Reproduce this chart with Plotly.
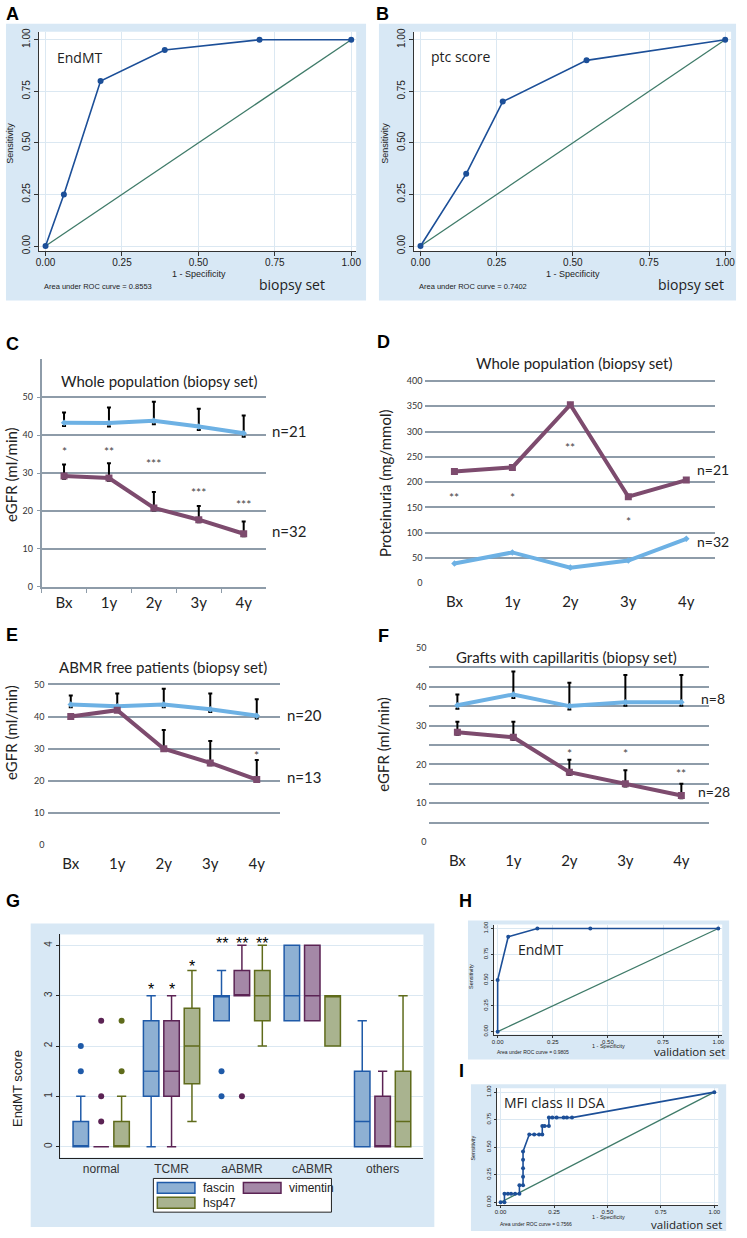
import plotly.graph_objects as go

W, H = 747, 1238

# ---------------- data ----------------
roc_ref = [0, 1]
roc_a_fpr = [0, 0.06, 0.18, 0.39, 0.70, 1.0]
roc_a_tpr = [0, 0.25, 0.80, 0.95, 1.0, 1.0]
roc_b_fpr = [0, 0.15, 0.27, 0.545, 1.0]
roc_b_tpr = [0, 0.35, 0.70, 0.90, 1.0]
roc_h_fpr = [0, 0, 0.048, 0.18, 0.42, 1.0]
roc_h_tpr = [0, 0.5, 0.92, 1.0, 1.0, 1.0]
roc_i_fpr = [0, 0.018, 0.018, 0.034, 0.049, 0.068, 0.088, 0.088, 0.105, 0.105, 0.105, 0.105,
             0.105, 0.134, 0.157, 0.18, 0.195, 0.195, 0.206, 0.226, 0.226, 0.242, 0.262, 0.295,
             0.31, 0.334, 1.0]
roc_i_tpr = [0, 0, 0.077, 0.077, 0.077, 0.077, 0.077, 0.154, 0.154, 0.231, 0.308, 0.385,
             0.462, 0.615, 0.615, 0.615, 0.615, 0.692, 0.692, 0.692, 0.769, 0.769, 0.769, 0.769,
             0.769, 0.769, 1.0]

timepoints = ['Bx', '1y', '2y', '3y', '4y']

c_blue = [43.3, 43.2, 43.8, 42.3, 40.5]
c_blue_up = [46, 47.3, 48.8, 47, 45.2]
c_purple = [29.2, 28.7, 20.8, 17.7, 14]
c_purple_up = [32.3, 32.6, 25, 21.3, 17.2]
c_stars = ['*', '**', '***', '***', '***']
c_star_y = [36.6, 36.6, 33.4, 25.8, 22.6]

d_purple = [221, 229, 353, 171, 204]
d_blue = [39, 61, 31, 45, 88]
d_stars = ['**', '*', '**', '*']
d_star_x = ['Bx', '1y', '2y', '3y']
d_star_y = [175, 175, 275, 128]

e_blue = [43.8, 43.2, 43.8, 42.3, 40.3]
e_blue_up = [46.6, 47.2, 48.7, 47.2, 45.4]
e_purple = [40, 42, 30, 25.6, 20.4]
e_purple_up = [40, 42, 35.8, 32.4, 26.5]
e_stars = ['*']
e_star_x = ['4y']
e_star_y = [28.8]

f_blue = [35.2, 38, 35, 36, 36]
f_blue_up = [38, 43.9, 41, 43, 43]
f_purple = [28.3, 27, 18, 15, 12]
f_purple_up = [31, 31, 21.2, 18.5, 15]
f_stars = ['*', '*', '**']
f_star_x = ['2y', '3y', '4y']
f_star_y = [23.5, 23.5, 18.5]

g_groups = ['normal', 'TCMR', 'aABMR', 'cABMR', 'others']
g_series = ['fascin', 'vimentin', 'hsp47']
g_q1 = {'fascin': [0, 1, 2.5, 2.5, 0], 'vimentin': [0, 1, 3, 2.5, 0], 'hsp47': [0, 1.25, 2.5, 2, 0]}
g_med = {'fascin': [0, 1.5, 3, 3, 0.5], 'vimentin': [0, 1.5, 3, 3, 0], 'hsp47': [0, 2, 3, 3, 0.5]}
g_q3 = {'fascin': [0.5, 2.5, 3, 4, 1.5], 'vimentin': [0, 2.5, 3.5, 4, 1], 'hsp47': [0.5, 2.75, 3.5, 3, 1.5]}
g_lo = {'fascin': [0, 0, 2.5, 2.5, 0], 'vimentin': [0, 0, 3, 2.5, 0], 'hsp47': [0, 0.5, 2, 2, 0]}
g_hi = {'fascin': [1, 3, 3.5, 4, 2.5], 'vimentin': [0, 3, 4, 4, 1.5], 'hsp47': [1, 3.5, 4, 3, 3]}
g_out_grp = {'fascin': [0, 0, 2, 2], 'vimentin': [0, 0, 0, 2], 'hsp47': [0, 0]}
g_out_val = {'fascin': [2, 1.5, 1.5, 1], 'vimentin': [2.5, 1, 0.5, 1], 'hsp47': [2.5, 1.5]}
g_star_grp = [1, 1, 1, 2, 2, 2]
g_star_ser = ['fascin', 'vimentin', 'hsp47', 'fascin', 'vimentin', 'hsp47']
g_star_txt = ['*', '*', '*', '**', '**', '**']
g_star_y = [3.2, 3.2, 3.66, 4.12, 4.12, 4.12]

# ---------------- styling ----------------
SANS = "Liberation Sans, Arial, sans-serif"
HUM = "Open Sans, sans-serif"
MYR = "Lato, sans-serif"
ROC_LINE = '#1c4f98'
ROC_REF = '#3f7b69'
GRID_ROC = '#dbe8f2'
BG_BLUE = '#d8e8f5'
GGRID = '#8e9ca9'
BLUE_S = '#6db1e4'
PURP_S = '#7d4b6e'
G_FILL = {'fascin': '#8eb0d3', 'vimentin': '#a488a7', 'hsp47': '#a9b38f'}
G_LINE = {'fascin': '#1f5aa8', 'vimentin': '#5b2354', 'hsp47': '#5f6b1b'}
G_OFF = {'fascin': -0.29, 'vimentin': 0.0, 'hsp47': 0.29}


def fx(p):
    return p / W


def fy(p):
    return 1 - p / H


def lin(v0, p0, v1, p1, pa, pb):
    k = (v1 - v0) / (p1 - p0)
    return [v0 + (pa - p0) * k, v0 + (pb - p0) * k]


layout = {}
shapes = []
annotations = []


def ann(text, x, y, size, family, color='#222', xanchor='center', yanchor='middle',
        xref='paper', yref='paper', angle=0, yshift=0):
    annotations.append(dict(text=text, x=x, y=y, xref=xref, yref=yref, showarrow=False,
                            xanchor=xanchor, yanchor=yanchor, textangle=angle, yshift=yshift,
                            font=dict(size=size, family=family, color=color)))


def roc_axes(n, xd, yd, x0p, x1p, y0p, y1p, fs, tl, so=0):
    sx = '' if n == 1 else str(n)
    layout['xaxis' + sx] = dict(
        domain=[fx(xd[0]), fx(xd[1])], range=lin(0, x0p, 1, x1p, xd[0], xd[1]),
        tickvals=[0, 0.25, 0.5, 0.75, 1], ticktext=['0.00', '0.25', '0.50', '0.75', '1.00'],
        showgrid=True, gridcolor=GRID_ROC, gridwidth=1, zeroline=False, showline=True,
        linecolor='#333', linewidth=1, ticks='outside', ticklen=tl, tickcolor='#333',
        tickfont=dict(family=SANS, size=fs, color='#222'), anchor='y' + sx,
        ticklabelstandoff=so)
    layout['yaxis' + sx] = dict(
        domain=[fy(yd[1]), fy(yd[0])], range=lin(0, y0p, 1, y1p, yd[1], yd[0]),
        tickvals=[0, 0.25, 0.5, 0.75, 1], ticktext=['0.00', '0.25', '0.50', '0.75', '1.00'],
        showgrid=True, gridcolor=GRID_ROC, gridwidth=1, zeroline=False, showline=True,
        linecolor='#333', linewidth=1, ticks='outside', ticklen=tl, tickcolor='#333',
        tickangle=-90, tickfont=dict(family=SANS, size=fs, color='#222'), anchor='x' + sx)
    shapes.append(dict(type='rect', xref='x' + sx + ' domain', yref='y' + sx + ' domain',
                       x0=0, x1=1, y0=0, y1=1, fillcolor='white', line=dict(width=0),
                       layer='below'))


def bg_box(x0, x1, y0, y1):
    shapes.append(dict(type='rect', xref='paper', yref='paper', x0=fx(x0), x1=fx(x1),
                       y0=fy(y1), y1=fy(y0), fillcolor=BG_BLUE, line=dict(width=0),
                       layer='below'))


fig = go.Figure()


def roc_traces(n, fpr, tpr, msize, lw):
    sx = '' if n == 1 else str(n)
    fig.add_trace(go.Scatter(x=roc_ref, y=roc_ref, xaxis='x' + sx, yaxis='y' + sx, mode='lines',
                             line=dict(color=ROC_REF, width=lw), hoverinfo='skip'))
    fig.add_trace(go.Scatter(x=fpr, y=tpr, xaxis='x' + sx, yaxis='y' + sx, mode='lines+markers',
                             line=dict(color=ROC_LINE, width=lw + 0.3),
                             marker=dict(size=msize, color=ROC_LINE)))


# ---------- A ----------
bg_box(3, 367, 19, 298)
roc_axes(1, (36, 357), (27, 248), 43, 352, 243, 35, 10, 4, -2)
roc_traces(1, roc_a_fpr, roc_a_tpr, 6, 1.3)
ann('EndMT', fx(53), fy(53), 14, HUM, xanchor='left')
ann('Sensitivity', fx(7), fy(139), 9, SANS, angle=-90)
ann('1 - Specificity', fx(198), fy(271), 9, SANS)
ann('Area under ROC curve = 0.8553', fx(39), fy(284), 7.5, SANS, xanchor='left')
ann('biopsy set', fx(257), fy(282), 14, HUM, xanchor='left')

# ---------- B ----------
bg_box(380, 741, 19, 298)
roc_axes(2, (415, 736), (27, 248), 422, 730, 243, 35, 10, 4, -2)
roc_traces(2, roc_b_fpr, roc_b_tpr, 6, 1.3)
ann('ptc score', fx(431), fy(52), 14, HUM, xanchor='left')
ann('Sensitivity', fx(386), fy(139), 9, SANS, angle=-90)
ann('1 - Specificity', fx(576), fy(271), 9, SANS)
ann('Area under ROC curve = 0.7402', fx(418), fy(284), 7.5, SANS, xanchor='left')
ann('biopsy set', fx(660), fy(282), 14, HUM, xanchor='left')


# ---------- line panels ----------
def cat_axes(n, xd, yd, yr, tickvals, ticktext, yline, xline, xticks):
    sx = str(n)
    layout['xaxis' + sx] = dict(
        domain=[fx(xd[0]), fx(xd[1])], range=[-0.5, 4.5], type='category',
        categoryorder='array', categoryarray=timepoints,
        showgrid=False, zeroline=False, showline=xline, linecolor=GGRID, linewidth=1.5,
        ticks='outside' if xticks else '', tickson='boundaries', ticklen=4,
        tickcolor=GGRID, tickwidth=1.2,
        tickfont=dict(family=MYR, size=15, color='#222'), anchor='y' + sx,
        ticklabelstandoff=1 if xticks else 7)
    layout['yaxis' + sx] = dict(
        domain=[fy(yd[1]), fy(yd[0])], range=yr, tickvals=tickvals, ticktext=ticktext,
        showgrid=True, gridcolor=GGRID, gridwidth=1.5, zeroline=False, showline=yline,
        linecolor=GGRID, linewidth=1.5, ticks='outside' if yline else '', ticklen=3,
        tickcolor=GGRID, tickfont=dict(family=MYR, size=9, color='#333'), anchor='x' + sx,
        ticklabelstandoff=2)


def err(up, v, minus):
    return dict(type='data', symmetric=False, array=[u - a for u, a in zip(up, v)],
                arrayminus=[minus if u > a else 0 for u, a in zip(up, v)],
                color='black', thickness=2, width=2)


def line_traces(n, blue, purple, blue_err=None, purple_err=None, blue_sym='diamond'):
    sx = str(n)
    fig.add_trace(go.Scatter(x=timepoints, y=blue, xaxis='x' + sx, yaxis='y' + sx,
                             mode='lines+markers', line=dict(color=BLUE_S, width=4),
                             marker=dict(size=5, color=BLUE_S, symbol=blue_sym),
                             error_y=blue_err))
    fig.add_trace(go.Scatter(x=timepoints, y=purple, xaxis='x' + sx, yaxis='y' + sx,
                             mode='lines+markers', line=dict(color=PURP_S, width=4),
                             marker=dict(size=7, color=PURP_S, symbol='square'),
                             error_y=purple_err))


# C
cat_axes(3, (39, 266), (357, 587), lin(0, 586.5, 10, 548.3, 587, 357),
         [0, 10, 20, 30, 40, 50], ['0', '10', '20', '30', '40', '50'], True, True, True)
line_traces(3, c_blue, c_purple, err(c_blue_up, c_blue, 0.9), err(c_purple_up, c_purple, 0.7))
ann('<b>C</b>', fx(10), fy(342), 18, SANS, color='black')
ann('Whole population (biopsy set)', fx(158), fy(379), 15, MYR)
ann('eGFR (ml/min)', fx(8), fy(473), 15, MYR, angle=-90)
for t, x, y in zip(c_stars, timepoints, c_star_y):
    ann(t, x, y, 12, MYR, color='#444', xref='x3', yref='y3', yshift=-3)
ann('n=21', fx(270), 41, 15, MYR, xanchor='left', yref='y3')
ann('n=32', fx(270), 14.8, 15, MYR, xanchor='left', yref='y3')

# D
cat_axes(4, (427, 720), (375, 584), lin(0, 583, 400, 379, 584, 375),
         [0, 50, 100, 150, 200, 250, 300, 350, 400],
         ['0', '50', '100', '150', '200', '250', '300', '350', '400'], False, False, False)
line_traces(4, d_blue, d_purple)
ann('<b>D</b>', fx(385), fy(340), 18, SANS, color='black')
ann('Whole population (biopsy set)', fx(577), fy(361), 15, MYR)
ann('Proteinuria (mg/mmol)', fx(386), fy(482), 15, MYR, angle=-90)
for t, x, y in zip(d_stars, d_star_x, d_star_y):
    ann(t, x, y, 12, MYR, color='#444', xref='x4', yref='y4', yshift=-3)
ann('n=21', fx(699), 225, 14, MYR, xanchor='left', yref='y4')
ann('n=32', fx(699), 83, 14, MYR, xanchor='left', yref='y4')

# E
cat_axes(5, (45, 280), (652, 848), lin(0, 847, 10, 814.6, 848, 652),
         [0, 10, 20, 30, 40, 50, 60], ['0', '10', '20', '30', '40', '50', ''], False, False, False)
line_traces(5, e_blue, e_purple, err(e_blue_up, e_blue, 0.9), err(e_purple_up, e_purple, 0.7))
ann('<b>E</b>', fx(9), fy(635), 18, SANS, color='black')
ann('ABMR free patients (biopsy set)', fx(162), fy(667), 15, MYR)
ann('eGFR (ml/min)', fx(8), fy(733), 15, MYR, angle=-90)
for t, x, y in zip(e_stars, e_star_x, e_star_y):
    ann(t, x, y, 12, MYR, color='#444', xref='x5', yref='y5', yshift=-3)
ann('n=20', fx(285), 40.5, 15, MYR, xanchor='left', yref='y5')
ann('n=13', fx(285), 21.2, 15, MYR, xanchor='left', yref='y5')

# F
cat_axes(6, (431, 714), (647, 845), lin(0, 844, 50, 648, 845, 647),
         [0, 5, 10, 15, 20, 25, 30, 35, 40, 45, 50],
         ['0', '', '10', '', '20', '', '30', '', '40', '', '50'], False, False, False)
line_traces(6, f_blue, f_purple, err(f_blue_up, f_blue, 0.9), err(f_purple_up, f_purple, 0.7))
ann('<b>F</b>', fx(385), fy(636), 18, SANS, color='black')
ann('Grafts with capillaritis (biopsy set)', fx(570), fy(657), 15, MYR)
ann('eGFR (ml/min)', fx(384), fy(745), 15, MYR, angle=-90)
for t, x, y in zip(f_stars, f_star_x, f_star_y):
    ann(t, x, y, 12, MYR, color='#444', xref='x6', yref='y6', yshift=-3)
ann('n=8', fx(704), 37, 14, MYR, xanchor='left', yref='y6')
ann('n=28', fx(700), 13, 14, MYR, xanchor='left', yref='y6')

# ---------- G ----------
bg_box(28, 436, 926, 1232)
layout['xaxis7'] = dict(
    domain=[fx(58), fx(425)], range=[-0.58, 4.58], tickvals=list(range(5)), ticktext=g_groups,
    showgrid=False, zeroline=False, showline=True, linecolor='#222', linewidth=1,
    ticks='', tickfont=dict(family=SANS, size=12, color='#333'), anchor='y7')
layout['yaxis7'] = dict(
    domain=[fy(1162), fy(937)], range=lin(0, 1151, 4, 948, 1162, 937), tickvals=[0, 1, 2, 3, 4],
    showgrid=True, gridcolor=GRID_ROC, gridwidth=1, zeroline=False, showline=True,
    linecolor='#222', linewidth=1, ticks='outside', ticklen=3, tickcolor='#222', tickangle=-90,
    tickfont=dict(family=SANS, size=10, color='#333'), anchor='x7')
shapes.append(dict(type='rect', xref='x7 domain', yref='y7 domain', x0=0, x1=1, y0=0, y1=1,
                   fillcolor='white', line=dict(width=0), layer='below'))
for s in g_series:
    xs = [i + G_OFF[s] for i in range(len(g_groups))]
    fig.add_trace(go.Box(x=xs, q1=g_q1[s], median=g_med[s], q3=g_q3[s], lowerfence=g_lo[s],
                         upperfence=g_hi[s], xaxis='x7', yaxis='y7', width=0.22,
                         fillcolor=G_FILL[s], line=dict(color=G_LINE[s], width=1.5),
                         whiskerwidth=0.6, boxpoints=False, name=s))
    fig.add_trace(go.Scatter(x=[g + G_OFF[s] for g in g_out_grp[s]], y=g_out_val[s],
                             xaxis='x7', yaxis='y7', mode='markers',
                             marker=dict(size=6, color=G_LINE[s]), hoverinfo='skip'))
for g, s, t, y in zip(g_star_grp, g_star_ser, g_star_txt, g_star_y):
    ann(t, g + G_OFF[s], y, 16, SANS, color='black', xref='x7', yref='y7', yshift=-4)
ann('<b>G</b>', fx(10), fy(903), 18, SANS, color='black')
ann('EndMT score', fx(14), fy(1092), 13, SANS, angle=-90)
# legend
shapes.append(dict(type='rect', xref='paper', yref='paper', x0=fx(152), x1=fx(332),
                   y0=fy(1217), y1=fy(1183), fillcolor='white', line=dict(color='#222', width=1)))
for s, (lx, ly) in zip(g_series, [(156, 1192.5), (243, 1192.5), (156, 1207.5)]):
    shapes.append(dict(type='rect', xref='paper', yref='paper', x0=fx(lx), x1=fx(lx + 38),
                       y0=fy(ly + 5.5), y1=fy(ly - 5.5), fillcolor=G_FILL[s],
                       line=dict(color=G_LINE[s], width=1.5)))
    ann(s, fx(lx + 44), fy(ly), 12, SANS, color='#222', xanchor='left')

# ---------- H ----------
bg_box(470, 734, 923, 1063)
roc_axes(8, (496, 727), (927, 1038), 500, 723, 1035, 931, 6, 2, -1)
roc_traces(8, roc_h_fpr, roc_h_tpr, 4, 1.3)
ann('<b>H</b>', fx(468), fy(903), 18, SANS, color='black')
ann('EndMT', fx(519), fy(952), 14, HUM, xanchor='left')
ann('Sensitivity', fx(473), fy(979), 5.5, SANS, angle=-90)
ann('1 - Specificity', fx(612), fy(1049), 5.5, SANS)
ann('Area under ROC curve = 0.9805', fx(497), fy(1056), 5, SANS, xanchor='left')
ann('validation set', fx(656), fy(1055), 11.5, HUM, xanchor='left')

# ---------- I ----------
bg_box(473, 731, 1088, 1236)
roc_axes(9, (499, 723), (1092, 1210), 503, 719, 1207, 1096, 6, 2, -1)
roc_traces(9, roc_i_fpr, roc_i_tpr, 4, 1.3)
ann('<b>I</b>', fx(463), fy(1075), 18, SANS, color='black')
ann('MFI class II DSA', fx(504), fy(1106), 14, HUM, xanchor='left')
ann('Sensitivity', fx(475), fy(1152), 5.5, SANS, angle=-90)
ann('1 - Specificity', fx(612), fy(1222), 5.5, SANS)
ann('Area under ROC curve = 0.7566', fx(500), fy(1229), 5, SANS, xanchor='left')
ann('validation set', fx(653), fy(1229), 11.5, HUM, xanchor='left')

ann('<b>A</b>', fx(10), fy(9), 18, SANS, color='black')
ann('<b>B</b>', fx(384), fy(9), 18, SANS, color='black')

fig.update_layout(width=W, height=H, margin=dict(l=0, r=0, t=0, b=0), showlegend=False,
                  paper_bgcolor='white', plot_bgcolor='rgba(0,0,0,0)',
                  shapes=shapes, annotations=annotations, **layout)
fig.write_html("out.html", config={'displayModeBar': False},
               post_script="document.body.style.margin='0px';document.body.style.overflow='hidden';")
